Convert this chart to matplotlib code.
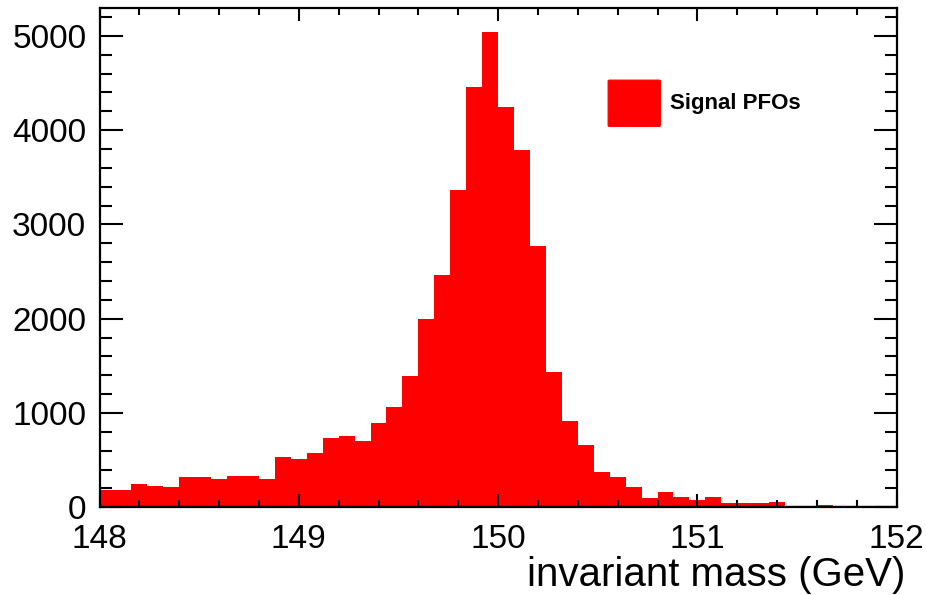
import numpy as np
import matplotlib
matplotlib.use("Agg")
import matplotlib.pyplot as plt
from matplotlib.patches import FancyBboxPatch
from matplotlib.ticker import MultipleLocator

# Invariant mass histogram: 50 bins from 148 to 152 GeV
mass_low = 148.0
mass_high = 152.0
n_bins = 50
signal_counts = [
    180, 180, 245, 225, 215, 320, 320, 295, 335, 335,
    300, 535, 515, 580, 735, 755, 705, 895, 1060, 1390,
    1995, 2460, 3370, 4455, 5040, 4245, 3785, 2775, 1440, 915,
    665, 375, 320, 215, 100, 160, 110, 80, 110, 50,
    50, 50, 60, 15, 15, 20, 5, 5, 5, 15,
]
x_tick_labels = ["148", "149", "150", "151", "152"]
y_tick_labels = ["0", "1000", "2000", "3000", "4000", "5000"]
legend_label = "Signal PFOs"
x_title = "invariant mass (GeV)"

plt.rcParams["font.family"] = ["Liberation Sans", "DejaVu Sans"]

W, H = 926, 595
fig = plt.figure(figsize=(W / 100, H / 100), dpi=100)
ax = fig.add_axes([99.5 / W, 1 - 507.3 / H, (896.7 - 99.5) / W, (507.3 - 8.3) / H])

edges = np.linspace(mass_low, mass_high, n_bins + 1)
counts = np.asarray(signal_counts, dtype=float)
ax.stairs(counts, edges, fill=True, color="#ff0000", linewidth=0)
ax.axhline(0, color="#2a1fc8", linewidth=1.6, zorder=3)

ax.set_xlim(mass_low, mass_high)
ax.set_ylim(0, counts.max() * 1.05)

xt = [float(t) for t in x_tick_labels]
yt = [float(t) for t in y_tick_labels]
ax.set_xticks(xt)
ax.set_xticklabels(x_tick_labels)
ax.set_yticks(yt)
ax.set_yticklabels(y_tick_labels)
ax.xaxis.set_minor_locator(MultipleLocator(0.2))
ax.yaxis.set_minor_locator(MultipleLocator(200))

for s in ax.spines.values():
    s.set_linewidth(1.6)
    s.set_zorder(4)

ax.tick_params(axis="both", which="both", direction="in", top=True, right=True,
               width=1.5, color="black", labelsize=24)
ax.tick_params(axis="x", which="major", length=9.5, pad=12)
ax.tick_params(axis="x", which="minor", length=4.8)
ax.tick_params(axis="y", which="major", length=16.5, pad=9.5)
ax.tick_params(axis="y", which="minor", length=8.6)

fig.text(905 / W, 1 - 575 / H, x_title, fontsize=29, ha="right", va="center")

# Legend entry: filled box plus bold label
box = FancyBboxPatch((609.5 / W, 1 - 125.5 / H), 49.5 / W, 44.5 / H,
                     boxstyle="round,pad=0.0015", transform=fig.transFigure,
                     facecolor="#ff0000", edgecolor="#ff0000", linewidth=0.8)
fig.patches.append(box)
fig.text(670 / W, 1 - 103.5 / H, legend_label, fontsize=16, fontweight="bold",
         ha="left", va="center")

fig.savefig("out.png", dpi=100)
